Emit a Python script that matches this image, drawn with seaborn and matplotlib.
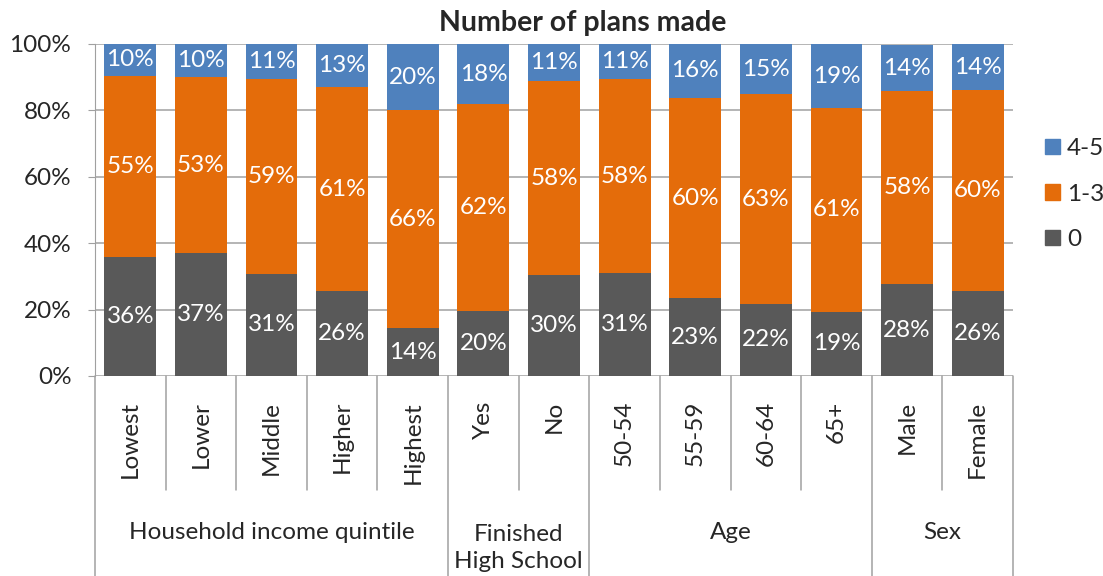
import numpy as np
import pandas as pd
import matplotlib
matplotlib.use("Agg")
import matplotlib.pyplot as plt
import matplotlib.transforms as mtransforms
from matplotlib.patches import Patch
import seaborn as sns

# data (percent of respondents)
categories = ["Lowest", "Lower", "Middle", "Higher", "Highest", "Yes", "No",
              "50-54", "55-59", "60-64", "65+", "Male", "Female"]
plans_0 = [35.8, 37.0, 30.8, 25.6, 14.4, 19.6, 30.4, 31.0, 23.4, 21.7, 19.3, 27.6, 25.6]
plans_1_3 = [54.6, 53.1, 58.6, 61.4, 65.7, 62.3, 58.4, 58.4, 60.4, 63.2, 61.4, 58.2, 60.4]
plans_4_5 = [9.6, 9.9, 10.6, 13.0, 19.9, 18.1, 11.2, 10.6, 16.2, 15.1, 19.3, 13.9, 14.0]
groups = ["Household income quintile", "Finished\nHigh School", "Age", "Sex"]
group_sizes = [5, 2, 4, 2]

c_top = "#4F81BD"
c_mid = "#E46C0A"
c_low = "#595959"
grid_c = "#A0A0A0"
fs = 17.5

sns.set_style("white")
plt.rcParams["font.family"] = ["Lato", "DejaVu Sans"]

df = pd.DataFrame({"cat": categories, "p0": plans_0, "p13": plans_1_3, "p45": plans_4_5})
df["cum1"] = df["p0"]
df["cum2"] = df["p0"] + df["p13"]
df["cum3"] = df["cum2"] + df["p45"]

fig = plt.figure(figsize=(11.03, 5.76), dpi=100)
ax = fig.add_axes([95 / 1103, 200 / 576, 918 / 1103, 332 / 576])

# stacked bars by overlaying cumulative totals
for col, colr in [("cum3", c_top), ("cum2", c_mid), ("cum1", c_low)]:
    sns.barplot(data=df, x="cat", y=col, color=colr, saturation=1, width=0.735,
                linewidth=0, ax=ax, zorder=2)

ax.set_ylim(0, 100)
ax.set_xlim(-0.5, len(categories) - 0.5)
ax.set_yticks(np.arange(0, 101, 20))
ax.set_yticklabels([f"{v}%" for v in range(0, 101, 20)], fontsize=fs)
ax.yaxis.grid(True, color=grid_c, lw=1.1, zorder=0)
ax.set_axisbelow(True)
ax.tick_params(axis="y", length=5, color=grid_c, pad=12, left=True)
ax.tick_params(axis="x", length=0, pad=18, labelsize=fs, labelrotation=90)
for lbl in ax.get_xticklabels():
    lbl.set_va("top")
ax.set_xlabel("")
ax.set_ylabel("")
for s in ["top", "right", "bottom"]:
    ax.spines[s].set_visible(False)
ax.spines["left"].set_color(grid_c)

# segment labels
for i in range(len(categories)):
    segs = [(0, plans_0[i]), (plans_0[i], plans_1_3[i]),
            (plans_0[i] + plans_1_3[i], plans_4_5[i])]
    for base, h in segs:
        mid = min(base + h / 2, (base + 100) / 2)
        ax.text(i, mid, f"{h:.0f}%", ha="center", va="center", color="white",
                fontsize=fs, zorder=5)

# category table below the axis
trans = mtransforms.blended_transform_factory(ax.transData, ax.transAxes)
edges = np.cumsum([0] + group_sizes) - 0.5
for k in range(len(categories) + 1):
    x = k - 0.5
    y1 = -0.62 if x in edges else -0.343
    ax.plot([x, x], [0, y1], transform=trans, color=grid_c, lw=1.1, clip_on=False)
for g, n, e in zip(groups, group_sizes, edges[:-1]):
    yy = -0.518 if "\n" in g else -0.47
    ax.text(e + n / 2, yy, g, transform=trans, ha="center", va="center",
            fontsize=fs, linespacing=1.36)

fig.text(583 / 1103, 1 - 23 / 576, "Number of plans made", fontsize=20.5,
         fontweight="bold", ha="center", va="center")

handles = [Patch(color=c_top, label="4-5"), Patch(color=c_mid, label="1-3"),
           Patch(color=c_low, label="0")]
ax.legend(handles=handles, loc="center left", bbox_to_anchor=(1.035, 0.548),
          frameon=False, fontsize=fs, handlelength=0.6, handleheight=0.6,
          handletextpad=0.3, labelspacing=1.0, borderpad=0, borderaxespad=0)

fig.savefig("out.png", dpi=100)
